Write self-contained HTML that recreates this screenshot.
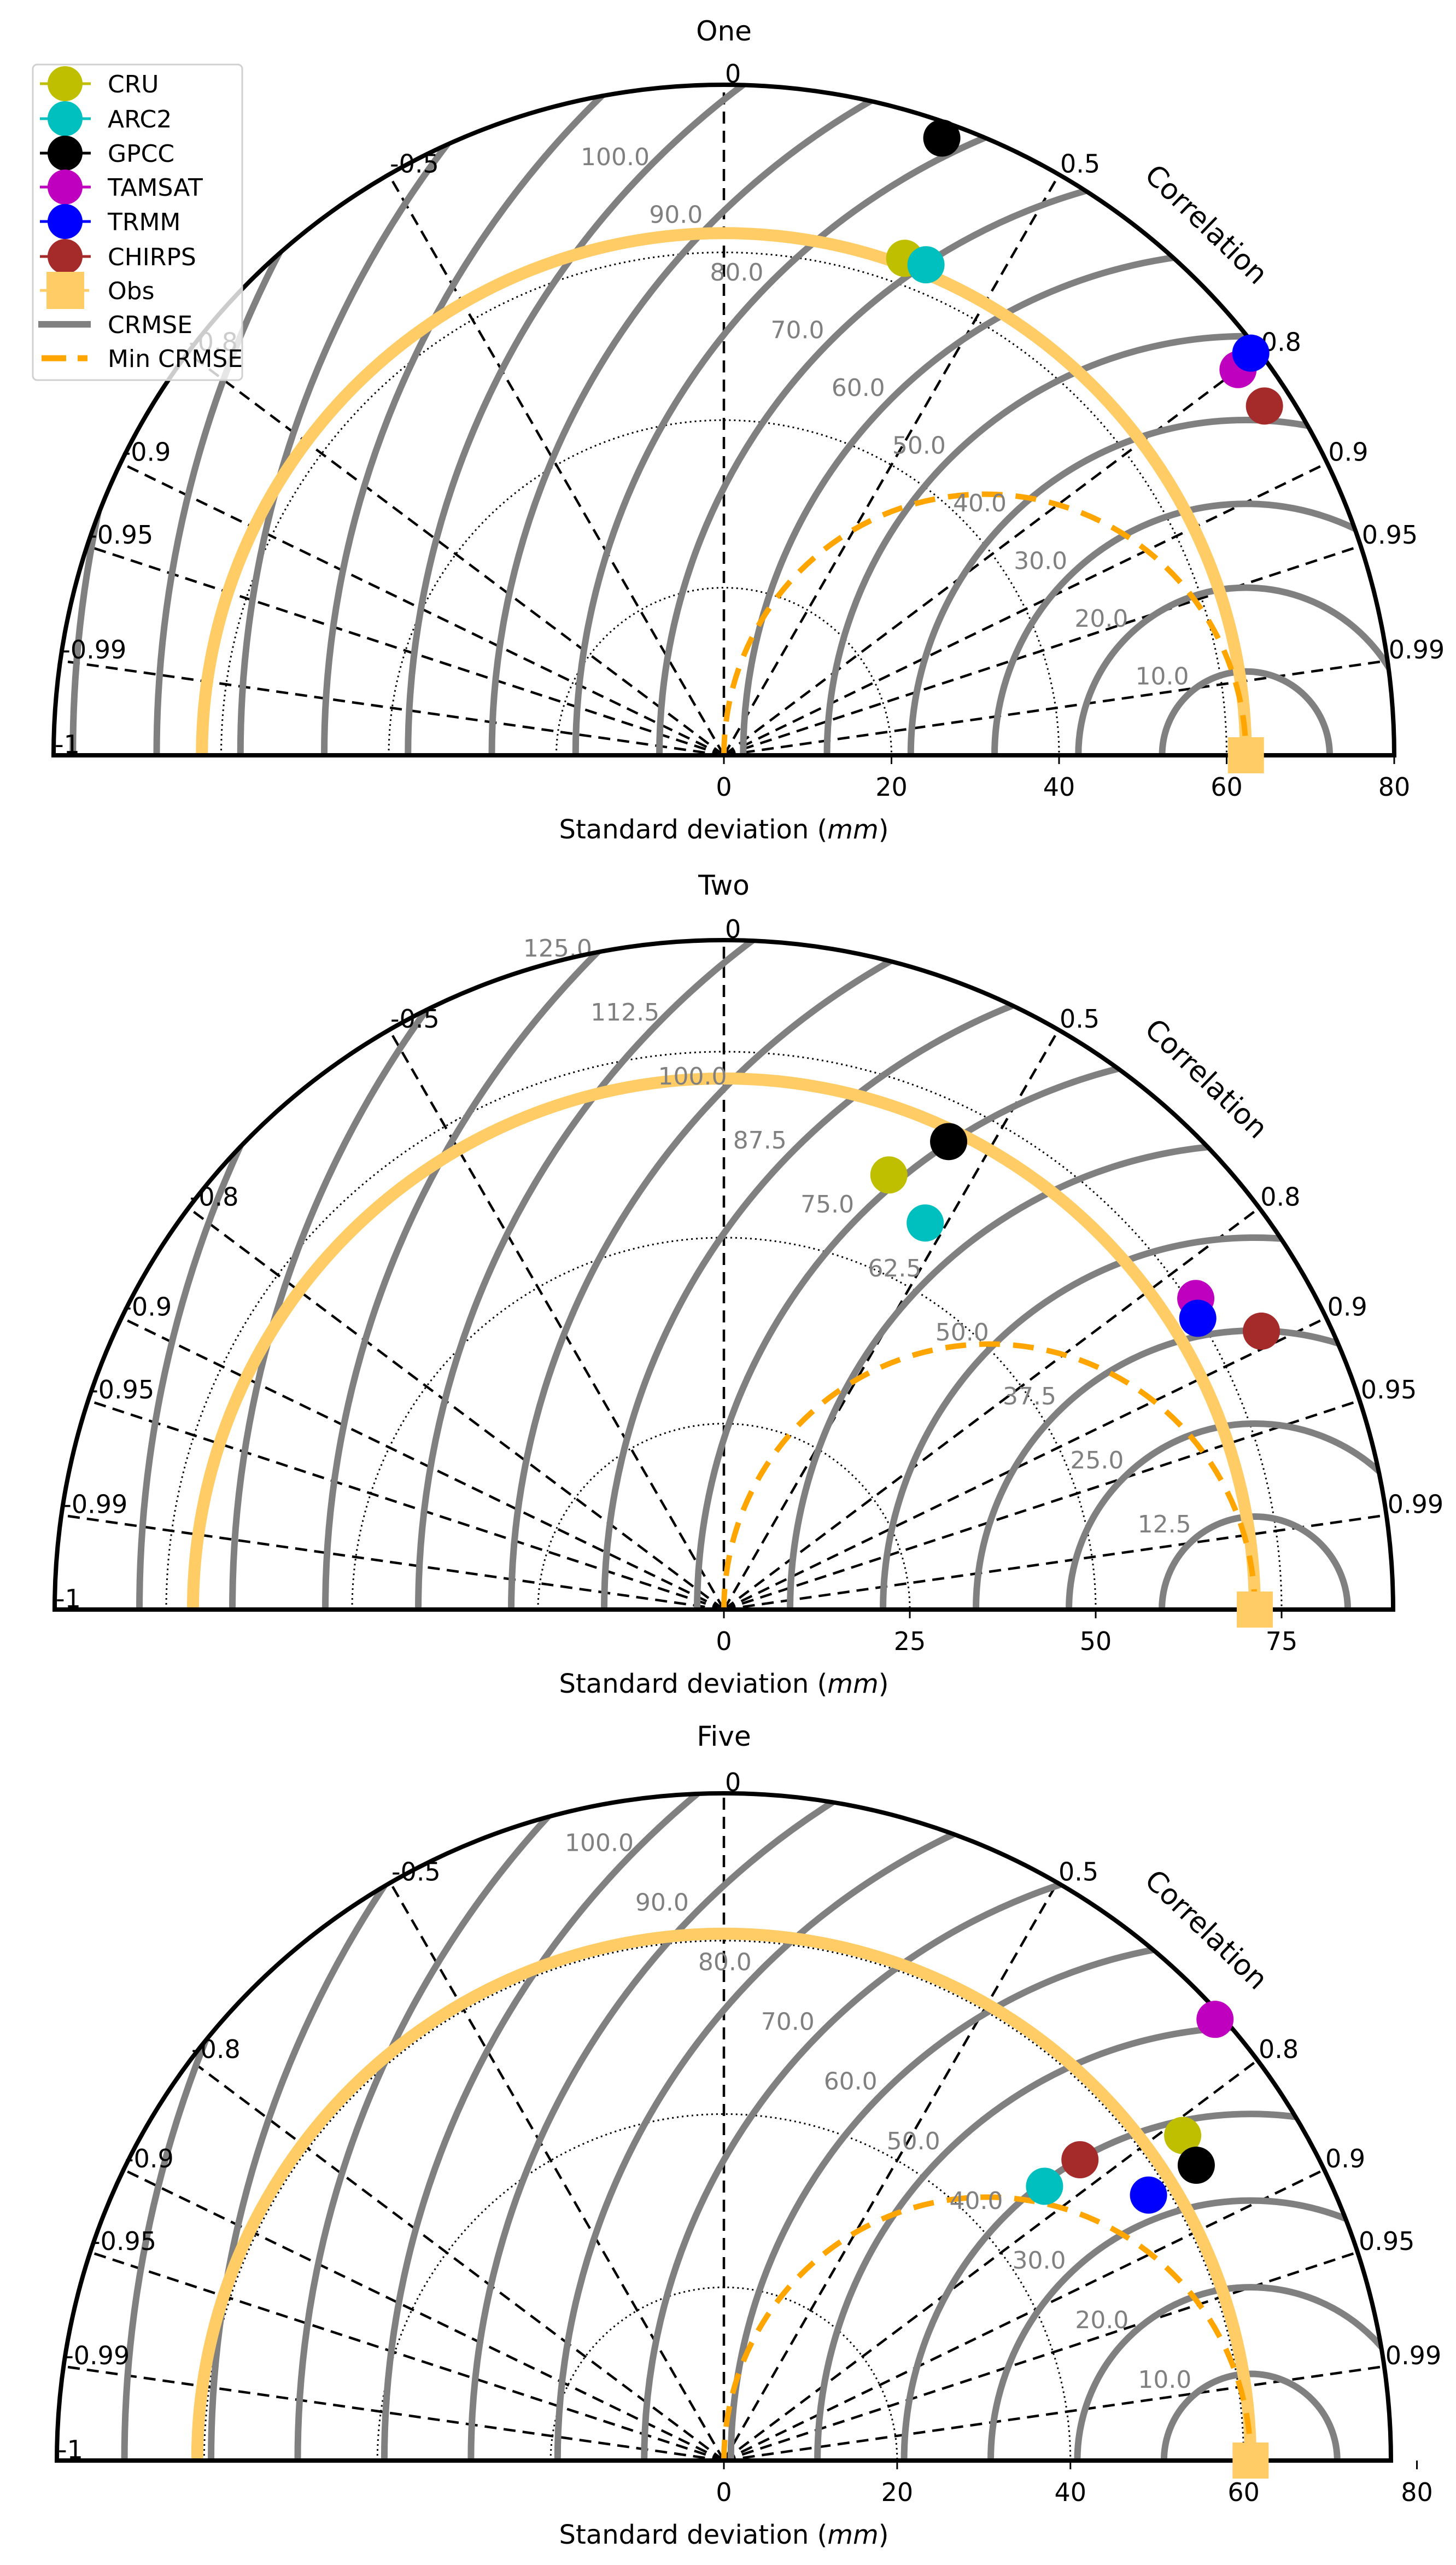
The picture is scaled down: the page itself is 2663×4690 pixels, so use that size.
<!DOCTYPE html>
<html><head><meta charset="utf-8"><style>
html,body{margin:0;padding:0;background:#fff;width:2663px;height:4690px;overflow:hidden;}
svg{display:block;font-family:"DejaVu Sans","Liberation Sans",sans-serif;overflow:hidden;}
</style></head><body>
<svg id="chart" xmlns="http://www.w3.org/2000/svg" width="2663" height="4690" viewBox="0 0 2663 4690"></svg>
<script>
const names = ["CRU","ARC2","GPCC","TAMSAT","TRMM","CHIRPS"];
const colors = ["#bfbf00","#00bfbf","#000000","#bf00bf","#0000ff","#a52a2a"];
const corTicks = [-1,-0.99,-0.95,-0.9,-0.8,-0.5,0,0.5,0.8,0.9,0.95,0.99];
const corLabels = ["-1","-0.99","-0.95","-0.9","-0.8","-0.5","0","0.5","0.8","0.9","0.95","0.99"];
// panel One
const oneStd = [63.1,63.3,78.1,76.7,79.1,76.8];
const oneCor = [0.342,0.381,0.333,0.800,0.795,0.840];
const oneObs = 62.3;
const oneXTicks = [0,20,40,60,80];
const oneCrmseLabels = [10,20,30,40,50,60,70,80,90,100];
const oneDotted = [20,40,60];
// panel Two
const twoStd = [62.5,58.6,69.8,76.0,74.8,81.4];
const twoCor = [0.355,0.462,0.433,0.835,0.852,0.888];
const twoObs = 71.4;
const twoXTicks = [0,25,50,75];
const twoCrmseLabels = [12.5,25,37.5,50,62.5,75,87.5,100,112.5,125];
const twoDotted = [25,50,75];
// panel Five
const fiveStd = [64.9,48.7,64.3,76.2,57.8,53.8];
const fiveCor = [0.816,0.760,0.848,0.744,0.848,0.764];
const fiveObs = 60.8;
const fiveXTicks = [0,20,40,60,80];
const fiveCrmseLabels = [10,20,30,40,50,60,70,80,90,100];
const fiveDotted = [20,40,60];

const NS = "http://www.w3.org/2000/svg";
const svg = document.getElementById("chart");
function mk(tag, attrs, parent){
  const e = document.createElementNS(NS, tag);
  for (const k in attrs) e.setAttribute(k, attrs[k]);
  (parent||svg).appendChild(e);
  return e;
}

function panel(id, title, cy, R, max, obs, std, cor, xticks, crLabels, dotted){
  const cx = 1324;
  const k = R / max;
  const g = mk("g", {});
  
  
  const px = (s, c) => cx + s * k * c;
  const py = (s, c) => cy - s * k * Math.sqrt(Math.max(0, 1 - c * c));
  const clipId = "clip-" + id;
  const defs = mk("defs", {}, g);
  const cp = mk("clipPath", {id: clipId}, defs);
  mk("path", {d: `M${cx-R},${cy} A${R},${R} 0 0 1 ${cx+R},${cy} Z`}, cp);
  const inner = mk("g", {"clip-path": `url(#${clipId})`}, g);

  dotted.forEach(d => {
    const c = mk("path", {d: `M${cx-d*k},${cy} A${d*k},${d*k} 0 0 1 ${cx+d*k},${cy}`, fill: "none", stroke: "#000", "stroke-width": 3, "stroke-dasharray": "3,6"}, inner);
    
    
  });
  corTicks.forEach(c => {
    if (c === -1) return;
    const l = mk("line", {x1: cx, y1: cy, x2: px(max, c), y2: py(max, c), stroke: "#000", "stroke-width": 4.5, "stroke-dasharray": "22,13"}, inner);
    
    
  });
  const step = crLabels[0];
  const ox = cx + obs * k;
  for (let i = 1; i <= 16; i++) {
    const r = step * i * k;
    const c = mk("circle", {cx: ox, cy: cy, r: r, fill: "none", stroke: "#808080", "stroke-width": 12}, inner);
    
    
  }
  const ring = mk("path", {d: `M${cx-obs*k},${cy} A${obs*k},${obs*k} 0 0 1 ${cx+obs*k},${cy}`, fill: "none", stroke: "#ffcc66", "stroke-width": 22}, inner);
  
  
  const hr = obs * k / 2;
  const mn = mk("path", {d: `M${cx},${cy} A${hr},${hr} 0 0 1 ${cx+obs*k},${cy}`, fill: "none", stroke: "#ffa500", "stroke-width": 10, "stroke-dasharray": "38,24"}, inner);
  
  

  const ang = 136.5 * Math.PI / 180;
  crLabels.forEach(v => {
    const d = v * k + 58;
    const t = mk("text", {x: ox + d * Math.cos(ang), y: cy - d * Math.sin(ang) + 16, "text-anchor": "middle", "font-size": 44, fill: "#808080"}, g);
    t.textContent = v.toFixed(1);
    
    
  });

  const fr = mk("path", {d: `M${cx-R},${cy} A${R},${R} 0 0 1 ${cx+R},${cy} Z`, fill: "none", stroke: "#000", "stroke-width": 8}, g);
  
  

  corTicks.forEach((c, i) => {
    const t = mk("text", {x: px(max, c) + 2, y: py(max, c) - 4, "font-size": 46, fill: "#000"}, g);
    t.textContent = corLabels[i];
    
    
  });
  const ct = mk("text", {x: 0, y: 0, "font-size": 52, fill: "#000", "text-anchor": "middle", transform: `translate(${cx+870},${cy-976+18}) rotate(44)`}, g);
  ct.textContent = "Correlation";
  
  

  xticks.forEach(v => {
    const x = cx + v * k;
    const tk = mk("line", {x1: x, y1: cy, x2: x, y2: cy + 16, stroke: "#000", "stroke-width": 3}, g);
    
    
    const t = mk("text", {x: x, y: cy + 74, "text-anchor": "middle", "font-size": 46, fill: "#000"}, g);
    t.textContent = String(v);
    
    
  });
  const xl = mk("text", {x: cx, y: cy + 152, "text-anchor": "middle", "font-size": 48, fill: "#000"}, g);
  xl.innerHTML = 'Standard deviation (<tspan font-style="italic">mm</tspan>)';
  
  
  const tt = mk("text", {x: cx, y: cy - 1307, "text-anchor": "middle", "font-size": 50, fill: "#000"}, g);
  tt.textContent = title;
  
  

  const sq = mk("rect", {x: cx + obs * k - 33, y: cy - 33, width: 66, height: 66, fill: "#ffcc66"}, g);
  
  
  std.forEach((s, i) => {
    const m = mk("circle", {cx: px(s, cor[i]), cy: py(s, cor[i]), r: 34, fill: colors[i]}, g);
    
    
  });
}

panel("one", "One", 1381, 1226, 80, oneObs, oneStd, oneCor, oneXTicks, oneCrmseLabels, oneDotted);
panel("two", "Two", 2943, 1224, 90, twoObs, twoStd, twoCor, twoXTicks, twoCrmseLabels, twoDotted);
panel("five", "Five", 4499, 1220, 77, fiveObs, fiveStd, fiveCor, fiveXTicks, fiveCrmseLabels, fiveDotted);

const lg = mk("g", {});


mk("rect", {x: 60, y: 118, width: 383, height: 577, rx: 8, fill: "#fff", "fill-opacity": 0.8, stroke: "#d0d0d0", "stroke-width": 3}, lg);
const legY = [153,217,280,342,405,469];
names.forEach((n, i) => {
  const e = mk("g", {}, lg);
  
  
  mk("line", {x1: 73, y1: legY[i], x2: 166, y2: legY[i], stroke: colors[i], "stroke-width": 5}, e);
  mk("circle", {cx: 119, cy: legY[i], r: 32, fill: colors[i]}, e);
  const t = mk("text", {x: 197, y: legY[i] + 16, "font-size": 44, fill: "#000"}, e);
  t.textContent = n;
});
const eo = mk("g", {}, lg);


mk("line", {x1: 73, y1: 531, x2: 163, y2: 531, stroke: "#ffcc66", "stroke-width": 5}, eo);
mk("rect", {x: 85, y: 497, width: 69, height: 68, fill: "#ffcc66"}, eo);
const to = mk("text", {x: 197, y: 547, "font-size": 44, fill: "#000"}, eo);
to.textContent = "Obs";
const ec = mk("g", {}, lg);


mk("line", {x1: 70, y1: 593, x2: 166, y2: 593, stroke: "#808080", "stroke-width": 12}, ec);
const tc = mk("text", {x: 197, y: 609, "font-size": 44, fill: "#000"}, ec);
tc.textContent = "CRMSE";
const em = mk("g", {}, lg);


mk("line", {x1: 76, y1: 655, x2: 160, y2: 655, stroke: "#ffa500", "stroke-width": 11, "stroke-dasharray": "45,21"}, em);
const tm = mk("text", {x: 197, y: 671, "font-size": 44, fill: "#000"}, em);
tm.textContent = "Min CRMSE";
</script>
</body></html>
